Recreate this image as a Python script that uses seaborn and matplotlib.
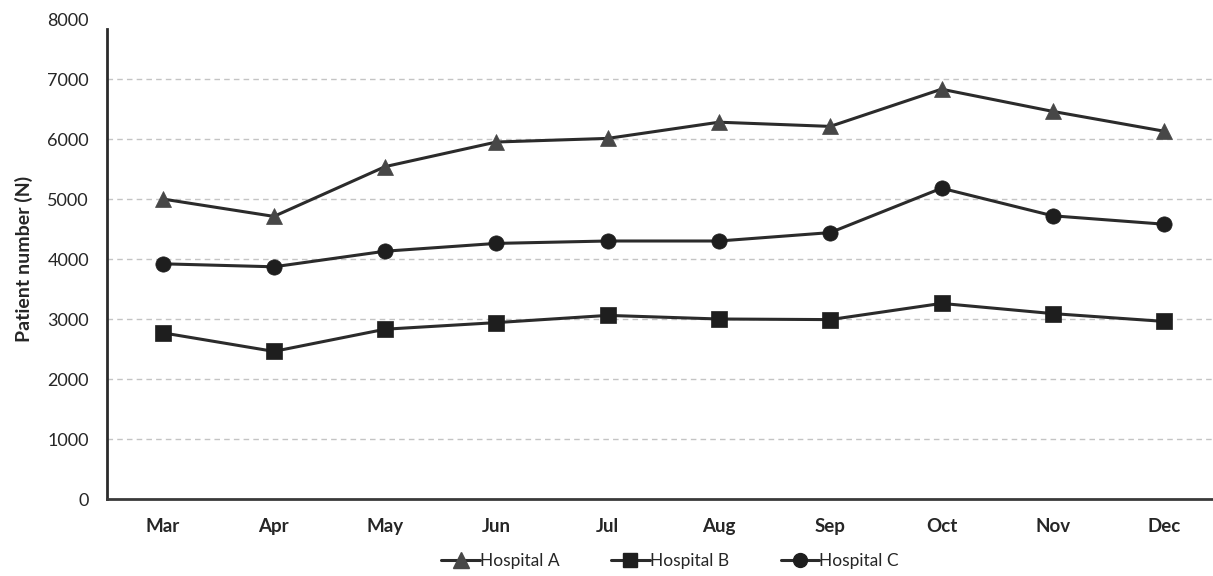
import matplotlib
matplotlib.use("Agg")
import matplotlib.pyplot as plt
import seaborn as sns
import pandas as pd
from matplotlib.lines import Line2D

months = ["Mar", "Apr", "May", "Jun", "Jul", "Aug", "Sep", "Oct", "Nov", "Dec"]
hospital_a = [5000, 4710, 5540, 5950, 6010, 6280, 6210, 6830, 6460, 6130]
hospital_b = [2770, 2460, 2830, 2940, 3060, 3000, 2990, 3260, 3090, 2960]
hospital_c = [3920, 3870, 4130, 4260, 4300, 4300, 4440, 5180, 4720, 4580]
series_names = ["Hospital A", "Hospital B", "Hospital C"]
y_ticks = [0, 1000, 2000, 3000, 4000, 5000, 6000, 7000, 8000]

sns.set_style("white")
plt.rcParams["font.family"] = ["Lato", "DejaVu Sans"]

text_color = "#262626"
line_color = "#2b2b2b"

fig = plt.figure(figsize=(12.13, 5.76), dpi=100)
ax = fig.add_axes([107 / 1213, 1 - 499 / 576, (1213 - 107) / 1213, (499 - 19) / 576])

styles = [
    dict(marker="^", color=line_color, mfc="#474747", ms=12),
    dict(marker="s", color=line_color, mfc="#1e1e1e", ms=11),
    dict(marker="o", color=line_color, mfc="#1e1e1e", ms=11),
]

for name, values, st in zip(series_names, [hospital_a, hospital_b, hospital_c], styles):
    df = pd.DataFrame({"month": months, "patients": values})
    sns.lineplot(data=df, x="month", y="patients", ax=ax, color=st["color"],
                 linewidth=2.2, marker=st["marker"], markersize=st["ms"],
                 markerfacecolor=st["mfc"], markeredgecolor=st["mfc"],
                 markeredgewidth=0.5, sort=False, zorder=3)

ax.set_ylim(0, 8000)
ax.set_xlim(-0.5, 9.44)
ax.set_yticks(y_ticks)
ax.set_yticklabels([str(v) for v in y_ticks], fontsize=13, color=text_color)
ax.set_xticks(range(len(months)))
ax.set_xticklabels(months, fontsize=13.5, fontweight="bold", color=text_color)
ax.tick_params(axis="both", length=0)
ax.tick_params(axis="x", pad=14)
ax.tick_params(axis="y", pad=13)

ax.set_xlabel("")
ax.set_ylabel("Patient number (N)", fontsize=14, fontweight="bold", color=text_color, labelpad=10)

for v in y_ticks[1:-1]:
    ax.axhline(v, color="#c4c4c4", linestyle=(0, (4, 3)), linewidth=1.0, zorder=1)

for side in ["top", "right"]:
    ax.spines[side].set_visible(False)
ax.spines["left"].set_color("#2b2b2b")
ax.spines["left"].set_linewidth(2.0)
ax.spines["left"].set_bounds(0, 7830)
ax.spines["bottom"].set_color("#3a3a3a")
ax.spines["bottom"].set_linewidth(2.0)

handles = [Line2D([0], [0], color=st["color"], linewidth=2.2, marker=st["marker"],
                  markersize=st["ms"] - 1, markerfacecolor=st["mfc"], markeredgecolor=st["mfc"])
           for st in styles]
fig.legend(handles, series_names, loc="center", bbox_to_anchor=(670 / 1213, 1 - 561 / 576),
           ncol=3, frameon=False, fontsize=12.5, handlelength=2.2, handletextpad=0.0,
           columnspacing=3.0, labelcolor=text_color)

fig.savefig("out.png", dpi=100)
